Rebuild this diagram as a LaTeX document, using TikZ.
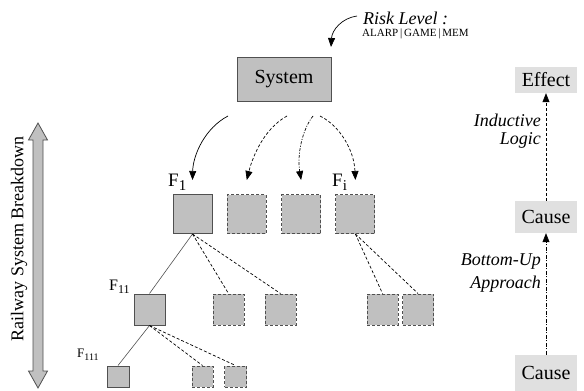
\documentclass[tikz,border=0pt]{standalone}
\usepackage{fontspec}
\setmainfont{Liberation Serif}
\usepackage{xcolor}
\usetikzlibrary{arrows.meta, positioning}
\definecolor{boxgray}{HTML}{C0C0C0}
\definecolor{edgegray}{HTML}{505050}
\definecolor{lightbox}{HTML}{E0E0E0}
\newcommand{\fsize}[1]{\fontsize{#1}{#1}\selectfont}
\newcommand{\flab}[3]{\fsize{#1}F\raisebox{-0.45ex}{\fsize{#2}#3}}
\tikzstyle{sysbox} = [rectangle, minimum width=94pt, minimum height=44pt,
           inner sep=0pt, text centered, draw=edgegray, line width=1pt, fill=boxgray]
\tikzstyle{fbox} = [rectangle, inner sep=0pt, draw=edgegray, line width=1pt, fill=boxgray]
\tikzstyle{fdash} = [fbox, dashed, dash pattern=on 3pt off 2pt]
\tikzstyle{logicbox} = [rectangle, minimum width=62pt, inner sep=0pt,
           text centered, fill=lightbox]
\tikzstyle{arrow} = [line width=0.7pt, ->, >={Triangle[width=7pt,length=9pt]}]
\tikzstyle{link} = [line width=0.6pt, draw=edgegray]
\tikzstyle{dlink} = [line width=0.7pt, dashed, dash pattern=on 3pt off 2pt]
\begin{document}
\begin{tikzpicture}[x=1pt, y=-1pt, node distance=54.3pt]
\useasboundingbox (0,0) rectangle (584,391);
\node (system) [sysbox] at (284,79) {\fsize{20}System};
\node (risk) [anchor=west, inner sep=0pt] at (363,18) {\fsize{18}\itshape Risk Level :};
\node (levels) [anchor=west, inner sep=0pt] at (362,34) {\fsize{11}ALARP\,|\,GAME\,|\,MEM};
\coordinate (risktip) at (331,47);
\node (f1) [fbox, minimum size=39pt] at (192.5,214) {};
\node (f2) [fdash, minimum size=39pt, right of=f1] {};
\node (f3) [fdash, minimum size=39pt, right of=f2] {};
\node (fi) [fdash, minimum size=39pt, right of=f3] {};
\node (f11) [fbox, minimum size=31pt] at (149.5,309.5) {};
\node (f12) [fdash, minimum size=31pt] at (228.5,309.5) {};
\node (f13) [fdash, minimum size=31pt] at (280.5,309.5) {};
\node (fi1) [fdash, minimum size=31pt] at (382.5,309.5) {};
\node (fi2) [fdash, minimum size=31pt] at (418,309.5) {};
\node (f111) [fbox, minimum width=22pt, minimum height=21pt] at (118,376.5) {};
\node (f112) [fdash, minimum width=21pt, minimum height=21pt] at (202.5,376.5) {};
\node (f113) [fdash, minimum width=22pt, minimum height=21pt] at (235.5,376.5) {};
\node (lf1) [anchor=west, inner sep=0pt] at (168,182) {\flab{19}{15}{1}};
\node (lfi) [anchor=west, inner sep=0pt] at (332,182) {\flab{19}{15}{i}};
\node (lf11) [anchor=west, inner sep=0pt] at (109,287) {\flab{16}{12}{11}};
\node (lf111) [anchor=west, inner sep=0pt] at (77,355) {\flab{13}{10}{111}};
\node (effect) [logicbox, minimum height=26pt] at (546,80) {\fsize{20}Effect};
\node (cause1) [logicbox, minimum height=32pt] at (546,217) {\fsize{20}Cause};
\node (cause2) [logicbox, minimum height=36pt] at (546,373) {\fsize{20}Cause};
\node (inductive) [anchor=east, align=right, inner sep=0pt] at (541,131)
   {\fsize{18}\itshape Inductive\\[5pt]\fsize{18}\itshape Logic};
\node (bottomup) [anchor=east, align=right, inner sep=0pt] at (541,273)
   {\fsize{18}\itshape Bottom-Up\\[5pt]\fsize{18}\itshape Approach};
\node (breakdown) [rotate=90, inner sep=0pt] at (19,239) {\fsize{18}Railway System Breakdown};
\draw [fill=boxgray, draw=edgegray, line width=0.8pt]
   (38,123) -- (47.5,140) -- (43,140) -- (43,371) -- (47.5,371) -- (38,388)
   -- (28.5,371) -- (33,371) -- (33,140) -- (28.5,140) -- cycle;
\draw [arrow] (357,16) .. controls (342,18) and (332,30) .. (risktip);
\draw [arrow] (228,116) .. controls (205,128) and (193,155) .. ([yshift=14pt]f1.north);
\draw [arrow, dashed, dash pattern=on 3pt off 2pt] (287,116) .. controls (265,128) and (253,155) .. ([yshift=14pt]f2.north);
\draw [arrow, dash pattern=on 3pt off 1.5pt on 1pt off 1.5pt] (313,116) .. controls (302,130) and (297,155) .. ([yshift=14pt]f3.north);
\draw [arrow, dashed, dash pattern=on 3pt off 2pt] (320,116) .. controls (340,126) and (354,150) .. ([yshift=14pt]fi.north);
\draw [link] (f1.south) -- (f11.north);
\draw [dlink] (f1.south) -- (f12.north);
\draw [dlink] (f1.south) -- (f13.north);
\draw [dlink] (fi.south) -- (fi1.north);
\draw [dlink] (fi.south) -- (fi2.north);
\draw [link] (f11.south) -- (f111.north);
\draw [dlink] (f11.south) -- (f112.north);
\draw [dlink] (f11.south) -- (f113.north);
\draw [arrow, dashed, dash pattern=on 3pt off 2pt] (cause1) -- (effect);
\draw [arrow, dash pattern=on 4pt off 1.5pt on 1pt off 1.5pt] (cause2) -- (cause1);
\end{tikzpicture}
\end{document}
